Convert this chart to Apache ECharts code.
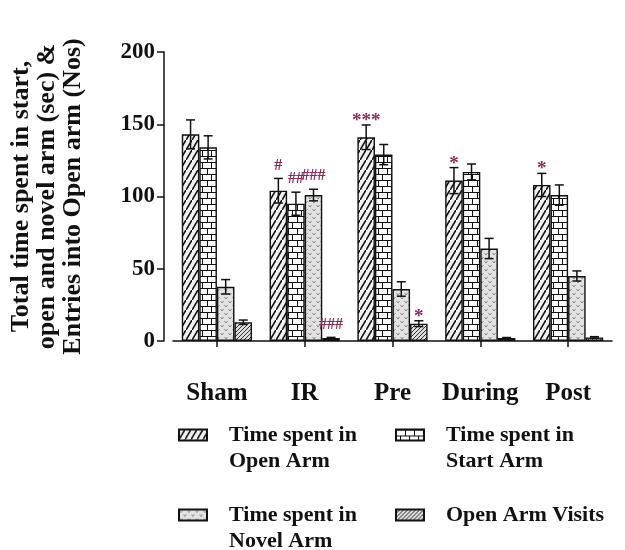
<!DOCTYPE html>
<html>
<head>
<meta charset="utf-8">
<script src="https://cdn.jsdelivr.net/npm/echarts@6/dist/echarts.min.js"></script>
<style>
  html, body { margin: 0; padding: 0; background: #fff; }
  #chart { width: 625px; height: 550px; }
</style>
</head>
<body>
<div id="chart"></div>
<script>
// Groups along the x axis
const groups = ['Sham', 'IR', 'Pre', 'During', 'Post'];

// Series names and their legend captions
const seriesNames = ['Time spent in Open Arm', 'Time spent in Start Arm', 'Time spent in Novel Arm', 'Open Arm Visits'];
const legendLabels = ['Time spent in\nOpen Arm', 'Time spent in\nStart Arm', 'Time spent in\nNovel Arm', 'Open Arm Visits'];

// Means (sec / number of visits)
const openArm  = [143, 104, 141, 111, 108];
const startArm = [134, 95, 129, 117, 101];
const novelArm = [37.5, 101, 36, 64, 45];
const visits   = [13, 2, 12, 2, 2.5];

// Error (SEM)
const openArmErr  = [10, 8.5, 8.5, 9, 8];
const startArmErr = [8, 8, 7, 5.5, 7];
const novelArmErr = [5, 4, 5, 7, 3.5];
const visitsErr   = [1.5, 0.5, 2, 0.4, 0.5];

// Significance markers
const openArmSig  = ['', '#', '***', '*', '*'];
const startArmSig = ['', '##', '', '', ''];
const novelArmSig = ['', '###', '', '', ''];
const visitsSig   = ['', '###', '*', '', ''];

// Y axis ticks
const yTicks = [0, 50, 100, 150, 200];

const means = [openArm, startArm, novelArm, visits];
const errs = [openArmErr, startArmErr, novelArmErr, visitsErr];
const sigs = [openArmSig, startArmSig, novelArmSig, visitsSig];

const FONT = '"Liberation Serif", "Times New Roman", serif';
const INK = '#111';
const SIG_COLOR = '#8a2a58';

// Fill patterns drawn on small tiles
function tile(w, h, draw) {
  const c = document.createElement('canvas');
  c.width = w; c.height = h;
  draw(c.getContext('2d'), w, h);
  return c;
}
const hatch = tile(6, 10, (ctx, w, h) => {
  ctx.fillStyle = '#f1f1f1'; ctx.fillRect(0, 0, w, h);
  ctx.strokeStyle = '#111'; ctx.lineWidth = 1.6;
  ctx.beginPath();
  ctx.moveTo(-1, h + 1.7); ctx.lineTo(w + 1, -1.7);
  ctx.stroke();
});
const brick = tile(18, 12, (ctx, w, h) => {
  ctx.fillStyle = '#fff'; ctx.fillRect(0, 0, w, h);
  ctx.strokeStyle = '#111'; ctx.lineWidth = 1;
  ctx.beginPath();
  ctx.moveTo(0, 0.5); ctx.lineTo(w, 0.5);
  ctx.moveTo(0, 6.5); ctx.lineTo(w, 6.5);
  ctx.moveTo(0.5, 0); ctx.lineTo(0.5, 6);
  ctx.moveTo(9.5, 0); ctx.lineTo(9.5, 6);
  ctx.moveTo(4.5, 6); ctx.lineTo(4.5, 12);
  ctx.moveTo(13.5, 6); ctx.lineTo(13.5, 12);
  ctx.stroke();
});
const dotted = tile(8, 8, (ctx, w, h) => {
  ctx.fillStyle = '#e2e2e2'; ctx.fillRect(0, 0, w, h);
  ctx.strokeStyle = '#8a8a8a'; ctx.lineWidth = 1;
  ctx.beginPath();
  ctx.moveTo(0.5, 1); ctx.lineTo(2, 3); ctx.lineTo(3.5, 1);
  ctx.moveTo(4.5, 5); ctx.lineTo(6, 7); ctx.lineTo(7.5, 5);
  ctx.stroke();
});
const fineHatch = tile(4, 4, (ctx, w, h) => {
  ctx.fillStyle = '#dcdcdc'; ctx.fillRect(0, 0, w, h);
  ctx.strokeStyle = '#333'; ctx.lineWidth = 1;
  ctx.beginPath();
  ctx.moveTo(-1, h + 1); ctx.lineTo(w + 1, -1);
  ctx.stroke();
});
const fills = [hatch, brick, dotted, fineHatch];

const barSeries = seriesNames.map((name, i) => ({
  name: name,
  type: 'bar',
  data: means[i],
  barGap: '0%',
  barCategoryGap: '20%',
  itemStyle: {
    color: { image: fills[i], repeat: 'repeat' },
    borderColor: INK,
    borderWidth: 1.4
  },
  z: 2
}));

// Error bars and significance markers, positioned with the bar layout
const errData = [];
means.forEach((arr, si) => arr.forEach((v, ci) => errData.push([ci, v, errs[si][ci], si])));

const errorSeries = {
  type: 'custom',
  data: errData,
  encode: { x: 0, y: 1 },
  z: 5,
  silent: true,
  renderItem: function (params, api) {
    const ci = api.value(0), v = api.value(1), e = api.value(2), si = api.value(3);
    const band = api.size([1, 0])[0];
    const bw = band * 0.8 / 4;
    const cx = api.coord([ci, 0])[0] + (si - 1.5) * bw;
    const yTop = api.coord([ci, v + e])[1];
    const yBot = api.coord([ci, Math.max(v - e, 0)])[1];
    const cap = 4.5;
    const lineStyle = { stroke: INK, lineWidth: 1.5 };
    const children = [
      { type: 'line', shape: { x1: cx, y1: yTop, x2: cx, y2: yBot }, style: lineStyle },
      { type: 'line', shape: { x1: cx - cap, y1: yTop, x2: cx + cap, y2: yTop }, style: lineStyle },
      { type: 'line', shape: { x1: cx - cap, y1: yBot, x2: cx + cap, y2: yBot }, style: lineStyle }
    ];
    const mark = sigs[si][ci];
    if (mark) {
      const isStar = mark.charAt(0) === '*';
      children.push({
        type: 'text',
        style: {
          text: mark,
          x: cx,
          y: yTop - (isStar ? 4 : 13),
          align: 'center',
          verticalAlign: 'middle',
          fill: SIG_COLOR,
          font: (isStar ? 'bold 19px ' : 'bold 16px ') + FONT
        }
      });
    }
    return { type: 'group', children: children };
  }
};

const legendPos = [
  { left: 178, top: 396 },
  { left: 395, top: 396 },
  { left: 178, top: 476 },
  { left: 395, top: 502 }
];

const option = {
  animation: false,
  backgroundColor: '#fff',
  grid: { left: 172, right: 13, top: 52, bottom: 209 },
  xAxis: {
    type: 'category',
    data: groups,
    axisLine: { lineStyle: { color: INK, width: 1.5 } },
    axisTick: { show: true, alignWithLabel: true, length: 6, lineStyle: { color: INK, width: 1.5 } },
    axisLabel: {
      interval: 0,
      margin: 40,
      color: INK,
      fontFamily: FONT,
      fontWeight: 'bold',
      fontSize: 25
    }
  },
  yAxis: {
    type: 'value',
    min: yTicks[0],
    max: yTicks[yTicks.length - 1],
    interval: yTicks[1] - yTicks[0],
    offset: 9,
    splitLine: { show: false },
    axisLine: { show: true, lineStyle: { color: INK, width: 1.5 } },
    axisTick: { show: true, length: 7, lineStyle: { color: INK, width: 1.5 } },
    axisLabel: {
      margin: 9,
      color: INK,
      fontFamily: FONT,
      fontWeight: 'bold',
      fontSize: 23
    },
    name: 'Total time spent in start,\nopen and novel arm (sec) &\nEntries into Open arm (Nos)',
    nameLocation: 'middle',
    nameRotate: 90,
    nameGap: 78,
    nameTextStyle: {
      color: INK,
      fontFamily: FONT,
      fontWeight: 'bold',
      fontSize: 26,
      lineHeight: 26
    }
  },
  legend: seriesNames.map((name, i) => ({
    data: [{ name: name, icon: 'rect' }],
    left: legendPos[i].left,
    top: legendPos[i].top,
    padding: 0,
    itemWidth: 28,
    itemHeight: 11,
    selectedMode: false,
    // a leading blank line keeps the first caption line level with the swatch
    formatter: n => {
      const lab = legendLabels[seriesNames.indexOf(n)];
      return lab.indexOf('\n') >= 0 ? ' \n' + lab : lab;
    },
    textStyle: {
      color: INK,
      fontFamily: FONT,
      fontWeight: 'bold',
      fontSize: 22,
      lineHeight: 26,
      padding: [0, 0, 0, 17]
    }
  })),
  series: barSeries.concat([errorSeries])
};

const chart = echarts.init(document.getElementById('chart'), null, { renderer: 'canvas' });
chart.setOption(option);
</script>
</body>
</html>
